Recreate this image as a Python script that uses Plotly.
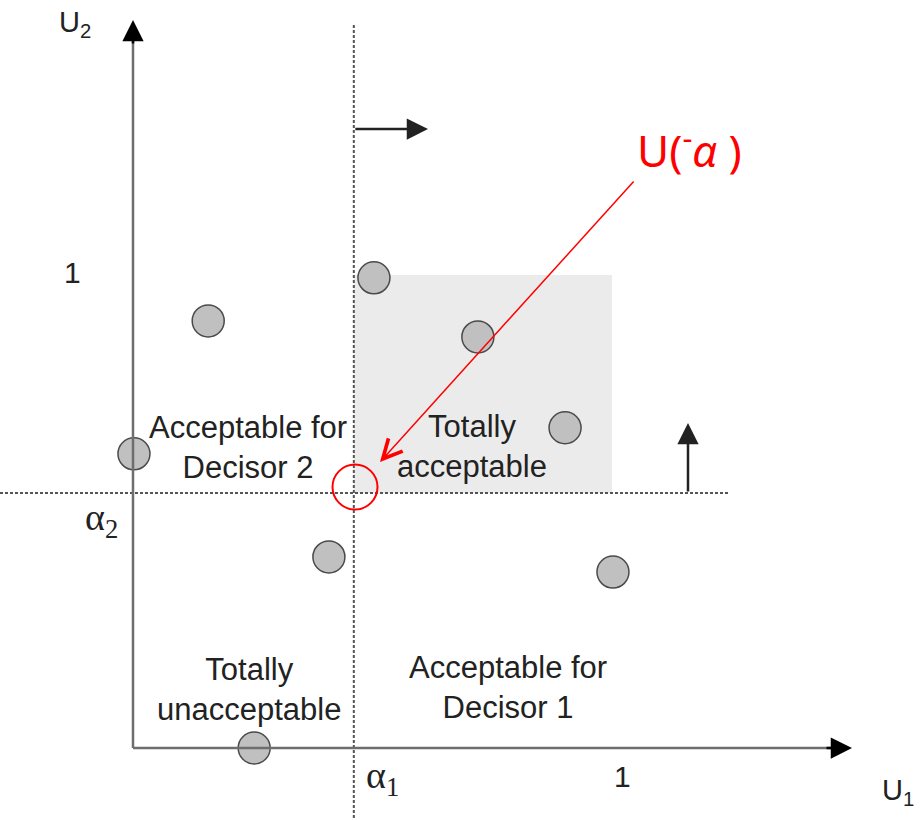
import plotly.graph_objects as go

# ---- data (in U1/U2 units) ----
alpha1 = 0.461
alpha2 = 0.539
points_u1 = [0.503, 0.157, 0.720, 0.902, 0.002, 0.409, 1.002, 0.253]
points_u2 = [0.994, 0.903, 0.869, 0.677, 0.622, 0.404, 0.372, 0.000]
region_labels = ["Acceptable for<br>Decisor 2", "Totally<br>acceptable",
                 "Totally<br>unacceptable", "Acceptable for<br>Decisor 1"]
region_u1 = [0.240, 0.708, 0.242, 0.783]
region_u2 = [0.636, 0.638, 0.123, 0.127]

# pixel scale (px per unit) used for layout
SX, SY = 479.0, 473.0
OX, OY = 133.0, 748.0
W, H = 921, 820
xr = [-OX / SX, (W - OX) / SX]
yr = [-(H - OY) / SY, OY / SY]

def ux(px):
    return (px - OX) / SX

def uy(py):
    return (OY - py) / SY

fig = go.Figure()

# shaded totally acceptable region
fig.add_shape(type="rect", x0=alpha1, x1=1.0, y0=alpha2, y1=1.0,
              fillcolor="#ebebeb", line=dict(width=0), layer="below")

# dotted threshold lines
fig.add_shape(type="line", x0=alpha1, x1=alpha1, y0=uy(25), y1=uy(820),
              line=dict(color="#555555", width=2, dash="3px,2px"))
fig.add_shape(type="line", x0=ux(0), x1=ux(728), y0=alpha2, y1=alpha2,
              line=dict(color="#555555", width=2, dash="3px,2px"))

# axis shafts (gray)
fig.add_shape(type="line", x0=0, x1=0, y0=0, y1=uy(35),
              line=dict(color="#6e6e6e", width=2.5))
fig.add_shape(type="line", x0=0, x1=ux(835), y0=0, y1=0,
              line=dict(color="#6e6e6e", width=2.5))

# points
fig.add_trace(go.Scatter(x=points_u1, y=points_u2, mode="markers",
                         marker=dict(size=32, color="#c0c0c0",
                                     line=dict(color="#4a4a4a", width=1.5)),
                         hoverinfo="skip", showlegend=False))

ann = []
def arrow(x0, y0, x1, y1, color="#000000", width=2.5, head=2, size=1.7):
    ann.append(dict(x=x1, y=y1, ax=x0, ay=y0, xref="x", yref="y", axref="x", ayref="y",
                    showarrow=True, arrowhead=head, arrowsize=size, arrowwidth=width,
                    arrowcolor=color, text=""))

# axis arrowheads
arrow(0, uy(45), 0, uy(20))
arrow(ux(825), 0, ux(852), 0)
# direction arrows
arrow(alpha1, uy(129), ux(428), uy(129), color="#222222")
arrow(ux(688), alpha2, ux(688), uy(423), color="#222222")
# red arrow
arrow(ux(635), uy(180), ux(380), uy(462), color="#ff0000", width=1.5, head=5, size=2.5)

fig.add_shape(type="circle", x0=ux(355 - 22.5), x1=ux(355 + 22.5),
              y0=uy(487 + 22.5), y1=uy(487 - 22.5),
              line=dict(color="#ff0000", width=2))

sans = "Liberation Sans, Arial"
serif = "Liberation Serif, Times New Roman"
for t, x, y in zip(region_labels, region_u1, region_u2):
    ann.append(dict(x=x, y=y, xref="x", yref="y", text=t, showarrow=False,
                    font=dict(family=sans, size=31, color="#222222")))

texts = [
    ("1", ux(72), uy(272), sans, 30),
    ("1", ux(622), uy(776), sans, 30),
    ("U<sub>2</sub>", ux(75), uy(24), sans, 29),
    ("U<sub>1</sub>", ux(898), uy(792), sans, 29),
    ("α<sub>2</sub>", ux(101), uy(520), serif, 38),
    ("α<sub>1</sub>", ux(382), uy(778), serif, 38),
]
for t, x, y, f, s in texts:
    ann.append(dict(x=x, y=y, xref="x", yref="y", text=t, showarrow=False,
                    font=dict(family=f, size=s, color="#222222")))

ann.append(dict(x=ux(689), y=uy(148), xref="x", yref="y",
                text="U(<sup>-</sup><i>α</i> )",
                showarrow=False,
                font=dict(family="Noto Sans", size=44, color="#ff0000")))

fig.update_layout(
    width=W, height=H, margin=dict(l=0, r=0, t=0, b=0),
    paper_bgcolor="white", plot_bgcolor="white",
    xaxis=dict(range=xr, visible=False, fixedrange=True),
    yaxis=dict(range=yr, visible=False, fixedrange=True),
    annotations=ann, showlegend=False,
)
fig.write_html("out.html", post_script="document.body.style.margin='0px';",
               config={"displayModeBar": False})
